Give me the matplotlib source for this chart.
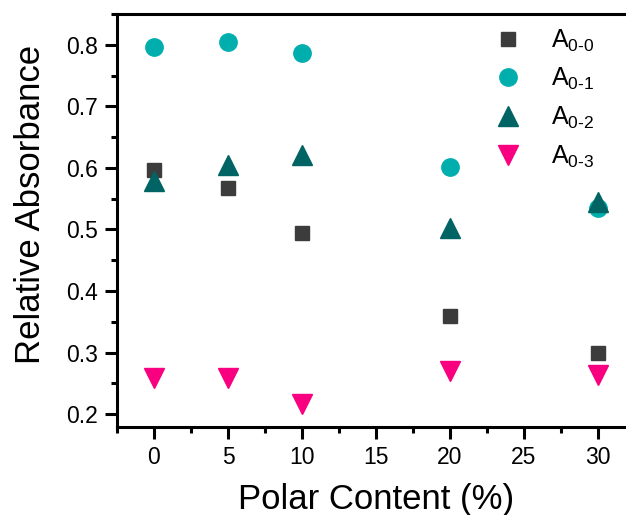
import matplotlib
matplotlib.use("Agg")
import matplotlib.pyplot as plt
from matplotlib.ticker import MultipleLocator

plt.rcParams['font.family'] = ['Liberation Sans', 'DejaVu Sans']
plt.rcParams['mathtext.fontset'] = 'custom'
plt.rcParams['mathtext.rm'] = 'Liberation Sans'

# data
polar = [0, 5, 10, 20, 30]
a00 = [0.597, 0.567, 0.494, 0.359, 0.299]
a01 = [0.796, 0.804, 0.787, 0.601, 0.534]
a02 = [0.578, 0.605, 0.621, 0.502, 0.545]
a03 = [0.259, 0.259, 0.217, 0.270, 0.264]

labels = ['A$_{\\text{0-0}}$', 'A$_{\\text{0-1}}$', 'A$_{\\text{0-2}}$', 'A$_{\\text{0-3}}$']

W, H = 626, 515
fig = plt.figure(figsize=(W / 100, H / 100), dpi=100)
ax = fig.add_axes([117 / W, 88 / H, 518 / W, 413 / H])

ax.plot(polar, a00, 's', color='#3c3c3c', ms=10.5, ls='none', label=labels[0])
ax.plot(polar, a01, 'o', color='#00aeae', ms=12.5, ls='none', label=labels[1])
ax.plot(polar, a02, '^', color='#006464', ms=14, ls='none', label=labels[2])
ax.plot(polar, a03, 'v', color='#f8007f', ms=14, ls='none', label=labels[3])

ax.set_xlim(-2.5, 32.5)
ax.set_ylim(0.179, 0.85)
ax.xaxis.set_major_locator(MultipleLocator(5))
ax.xaxis.set_minor_locator(MultipleLocator(2.5))
ax.yaxis.set_major_locator(MultipleLocator(0.1))
ax.yaxis.set_minor_locator(MultipleLocator(0.05))
ax.yaxis.set_major_formatter(plt.FuncFormatter(lambda v, p: f"{v:.1f}"))

for s in ax.spines.values():
    s.set_linewidth(2.2)
ax.tick_params(which='major', direction='out', length=8.5, width=2.2, labelsize=16.5, pad=5)
ax.tick_params(which='minor', direction='out', length=4.5, width=2.2)

ax.set_xlabel('Polar Content (%)', fontsize=25, labelpad=10)
ax.set_ylabel('Relative Absorbance', fontsize=25)
ax.yaxis.set_label_coords(-0.135, 0.538)

fig.legend(loc='upper left', bbox_to_anchor=(471 / W, 1 - 5 / H), frameon=False,
           fontsize=18, handletextpad=1.1, labelspacing=0.5, handlelength=1.2)

fig.savefig('out.png', dpi=100)
